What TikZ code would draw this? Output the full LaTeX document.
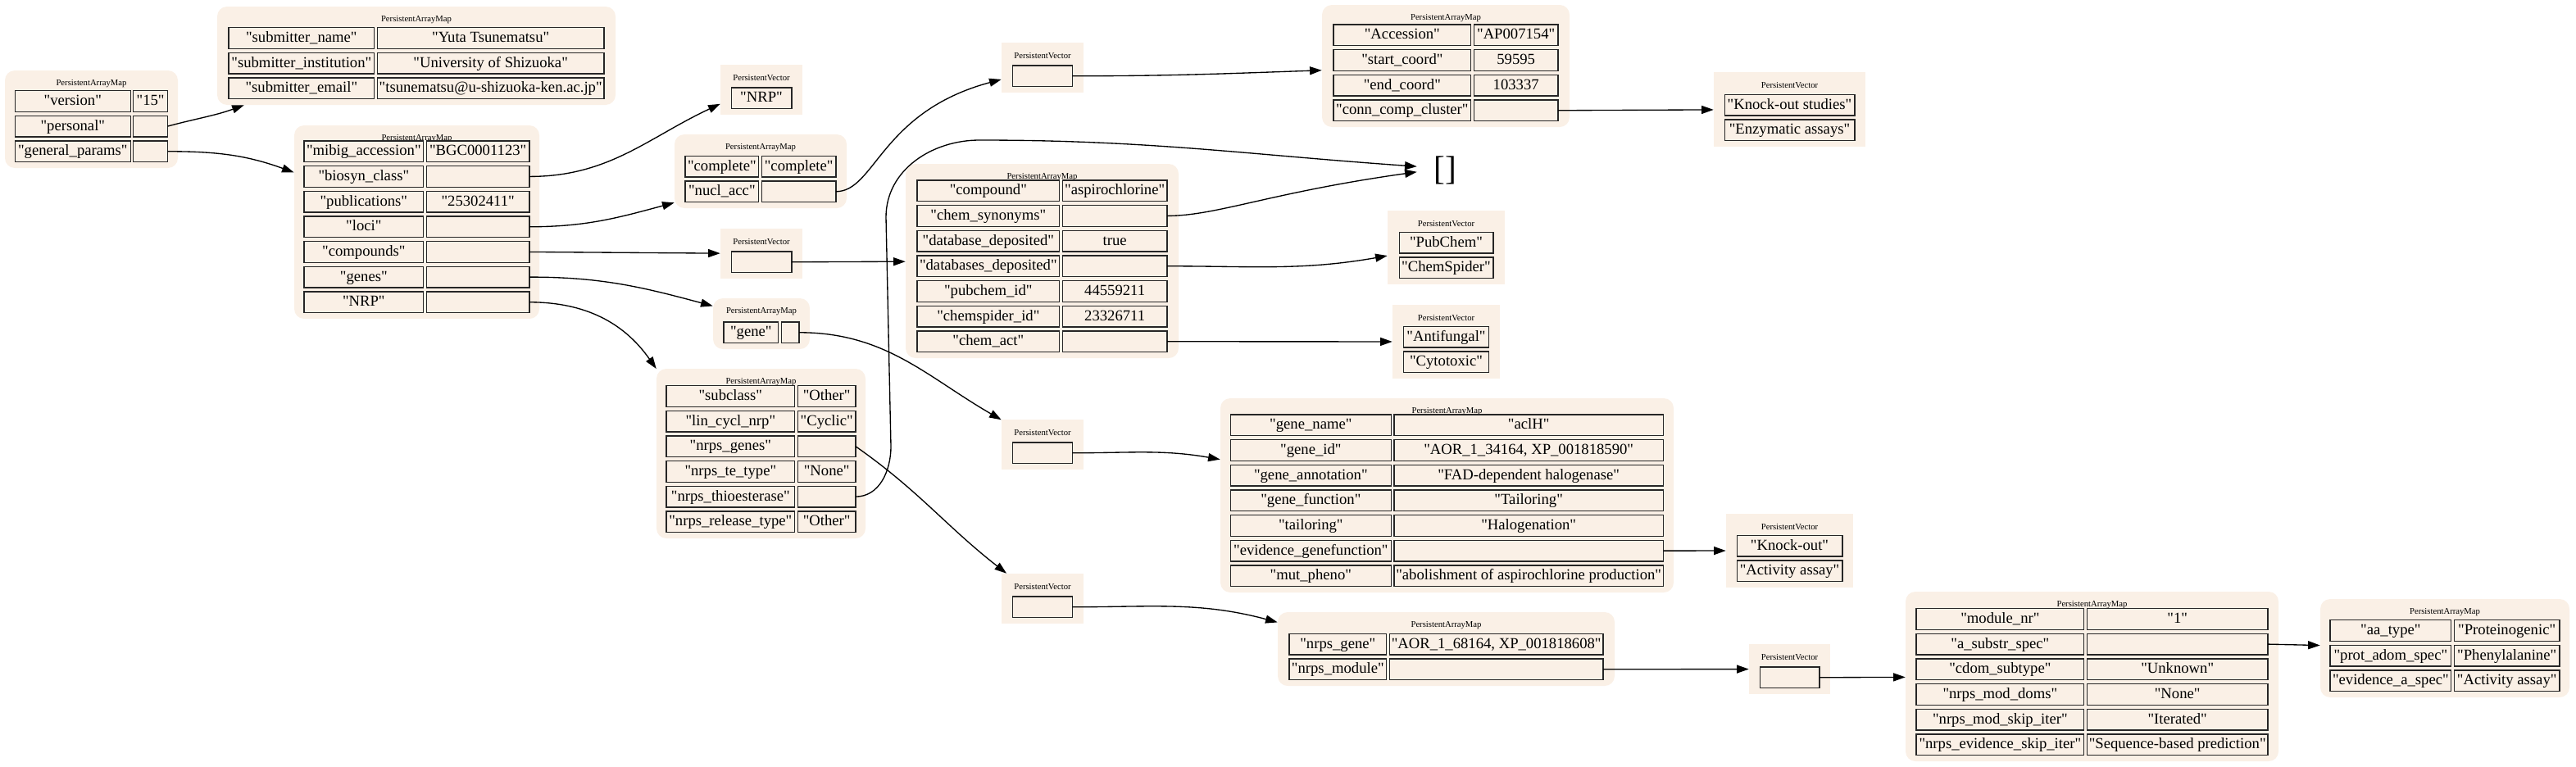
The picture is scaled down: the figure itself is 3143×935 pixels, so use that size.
\documentclass[tikz,border=0pt]{standalone}
\usepackage{fontspec}
\setmainfont{Liberation Serif}
\newfontfamily\gvfont{Liberation Serif}
\usetikzlibrary{matrix, fit, positioning, arrows.meta}

\definecolor{linen}{HTML}{FAF0E6}
\tikzset{
  cell/.style={draw=black!85, line width=1pt, fill=linen, font=\gvfont\fontsize{14}{16}\selectfont,
    inner xsep=1pt, inner ysep=0pt, minimum height=19.25pt, text height=10.5pt, text depth=3pt},
  tbl/.style 2 args={matrix of nodes, nodes in empty cells, inner sep=0pt, outer sep=0pt,
    column sep=1.75pt, row sep=2.75pt, nodes={cell},
    column 1/.style={nodes={minimum width=#1*0.75pt-1pt}},
    column 2/.style={nodes={minimum width=#2*0.75pt-1pt}}},
  vtbl/.style={matrix of nodes, nodes in empty cells, inner sep=0pt, outer sep=0pt,
    row sep=2.75pt, nodes={cell, minimum width=#1*0.75pt-1pt}},
  ttl/.style={font=\gvfont\fontsize{8}{9}\selectfont, anchor=center, yshift=-12pt},
  mapbg/.style={fill=linen, rounded corners=9pt, inner sep=0pt, label={[ttl]north:PersistentArrayMap}},
  vecbg/.style={fill=linen, inner sep=0pt, label={[ttl]north:PersistentVector}}
}

\begin{document}
\begin{tikzpicture}[x=0.75pt, y=-0.75pt, >={Triangle[length=11pt, width=7.5pt]}]
  \useasboundingbox (0,0) rectangle (3143,935);

  \node[mapbg, fit={(6,86) (217,205)}] (root) {};
  \matrix (rootT) [tbl={142}{43}, above=5.25pt of root.south] {
    "version" & "15" \\
    "personal" & \\
    "general\_params" & \\
  };

  \node[mapbg, fit={(265,8) (751,128)}] (personal) {};
  \matrix (personalT) [tbl={179}{278}, above=5.25pt of personal.south] {
    "submitter\_name" & "Yuta Tsunematsu" \\
    "submitter\_institution" & "University of Shizuoka" \\
    "submitter\_email" & "tsunematsu@u-shizuoka-ken.ac.jp" \\
  };

  \node[mapbg, fit={(359,153) (658,389)}] (general) {};
  \matrix (generalT) [tbl={147}{127}, above=5.25pt of general.south] {
    "mibig\_accession" & "BGC0001123" \\
    "biosyn\_class" & \\
    "publications" & "25302411" \\
    "loci" & \\
    "compounds" & \\
    "genes" & \\
    "NRP" & \\
  };

  \node[vecbg, fit={(879,79) (979,140)}] (biosyn) {};
  \matrix (biosynT) [vtbl={75}, above=5.25pt of biosyn.south] {
    "NRP" \\
  };

  \node[mapbg, fit={(823,164) (1033,254)}] (loci) {};
  \matrix (lociT) [tbl={91}{92}, above=5.25pt of loci.south] {
    "complete" & "complete" \\
    "nucl\_acc" & \\
  };

  \node[vecbg, fit={(1222,52) (1322,113)}] (nucl) {};
  \matrix (nuclT) [vtbl={74}, above=5.25pt of nucl.south] {
    {} \\
  };

  \node[mapbg, fit={(1613,6) (1915,155)}] (accession) {};
  \matrix (accessionT) [tbl={169}{104}, above=5.25pt of accession.south] {
    "Accession" & "AP007154" \\
    "start\_coord" & 59595 \\
    "end\_coord" & 103337 \\
    "conn\_comp\_cluster" & \\
  };

  \node[vecbg, fit={(2091,88) (2276,179)}] (conn) {};
  \matrix (connT) [vtbl={160}, above=5.25pt of conn.south] {
    "Knock-out studies" \\
    "Enzymatic assays" \\
  };

  \node[font=\gvfont\fontsize{31}{36}\selectfont, minimum width=51pt, minimum height=36pt, inner sep=0pt] (empty) at (1763,208) {[]};

  \node[vecbg, fit={(879,279) (979,340)}] (compounds) {};
  \matrix (compoundsT) [vtbl={75}, above=5.25pt of compounds.south] {
    {} \\
  };

  \node[mapbg, fit={(1105,200) (1438,437)}] (compound) {};
  \matrix (compoundT) [tbl={175}{129}, above=5.25pt of compound.south] {
    "compound" & "aspirochlorine" \\
    "chem\_synonyms" & \\
    "database\_deposited" & true \\
    "databases\_deposited" & \\
    "pubchem\_id" & 44559211 \\
    "chemspider\_id" & 23326711 \\
    "chem\_act" & \\
  };

  \node[vecbg, fit={(1693,257) (1836,347)}] (databases) {};
  \matrix (databasesT) [vtbl={116}, above=5.25pt of databases.south] {
    "PubChem" \\
    "ChemSpider" \\
  };

  \node[vecbg, fit={(1699,372) (1830,462)}] (chemact) {};
  \matrix (chemactT) [vtbl={105}, above=5.25pt of chemact.south] {
    "Antifungal" \\
    "Cytotoxic" \\
  };

  \node[mapbg, fit={(870,364) (988,426)}] (genes) {};
  \matrix (genesT) [tbl={68}{23}, above=5.25pt of genes.south] {
    "gene" & \\
  };

  \node[mapbg, fit={(801,450) (1056,657)}] (nrp) {};
  \matrix (nrpT) [tbl={158}{72}, above=5.25pt of nrp.south] {
    "subclass" & "Other" \\
    "lin\_cycl\_nrp" & "Cyclic" \\
    "nrps\_genes" & \\
    "nrps\_te\_type" & "None" \\
    "nrps\_thioesterase" & \\
    "nrps\_release\_type" & "Other" \\
  };

  \node[vecbg, fit={(1222,512) (1322,573)}] (gene) {};
  \matrix (geneT) [vtbl={74}, above=5.25pt of gene.south] {
    {} \\
  };

  \node[mapbg, fit={(1489,486) (2042,723)}] (genename) {};
  \matrix (genenameT) [tbl={197}{330}, above=5.25pt of genename.south] {
    "gene\_name" & "aclH" \\
    "gene\_id" & "AOR\_1\_34164, XP\_001818590" \\
    "gene\_annotation" & "FAD-dependent halogenase" \\
    "gene\_function" & "Tailoring" \\
    "tailoring" & "Halogenation" \\
    "evidence\_genefunction" & \\
    "mut\_pheno" & "abolishment of aspirochlorine production" \\
  };

  \node[vecbg, fit={(2106,627) (2261,717)}] (evidence) {};
  \matrix (evidenceT) [vtbl={130}, above=5.25pt of evidence.south] {
    "Knock-out" \\
    "Activity assay" \\
  };

  \node[vecbg, fit={(1222,700) (1322,761)}] (nrpsgenes) {};
  \matrix (nrpsgenesT) [vtbl={74}, above=5.25pt of nrpsgenes.south] {
    {} \\
  };

  \node[mapbg, fit={(1559,747) (1970,837)}] (nrpsgene) {};
  \matrix (nrpsgeneT) [tbl={120}{262}, above=5.25pt of nrpsgene.south] {
    "nrps\_gene" & "AOR\_1\_68164, XP\_001818608" \\
    "nrps\_module" & \\
  };

  \node[vecbg, fit={(2134,786) (2233,847)}] (module) {};
  \matrix (moduleT) [vtbl={74}, above=5.25pt of module.south] {
    {} \\
  };

  \node[mapbg, fit={(2325,722) (2780,929)}] (modulenr) {};
  \matrix (modulenrT) [tbl={206}{222}, above=5.25pt of modulenr.south] {
    "module\_nr" & "1" \\
    "a\_substr\_spec" & \\
    "cdom\_subtype" & "Unknown" \\
    "nrps\_mod\_doms" & "None" \\
    "nrps\_mod\_skip\_iter" & "Iterated" \\
    "nrps\_evidence\_skip\_iter" & "Sequence-based prediction" \\
  };

  \node[mapbg, fit={(2831,731) (3135,851)}] (aspec) {};
  \matrix (aspecT) [tbl={149}{130}, above=5.25pt of aspec.south] {
    "aa\_type" & "Proteinogenic" \\
    "prot\_adom\_spec" & "Phenylalanine" \\
    "evidence\_a\_spec" & "Activity assay" \\
  };

  \coordinate (t1) at (1087,545);
  \coordinate (t2) at (1081,265);
  \coordinate (t3) at (1195,171);

  \path[->, line width=1pt]
    (rootT-2-2.east) edge[out=15, in=200] (personal.196)
    (rootT-3-2.east) edge[out=0, in=160] (general.158)
    (generalT-2-2.east) edge[out=0, in=205] (biosyn.199)
    (generalT-4-2.east) edge[out=0, in=195] (loci.200)
    (generalT-5-2.east) edge (compounds)
    (generalT-6-2.east) edge[out=0, in=165] (genes.160)
    (generalT-7-2.east) edge[out=0, in=125] (nrp.141)
    (lociT-2-2.east) edge[out=0, in=195, out looseness=0.5, in looseness=1.6] (nucl.196)
    (nuclT-1-1.east) edge[out=0, in=182] (accession.182)
    (accessionT-4-2.east) edge (conn)
    (compoundsT-1-1.east) edge (compound)
    (compoundT-2-2.east) edge[out=0, in=188, out looseness=0.5, in looseness=1.5] (empty.183)
    (compoundT-4-2.east) edge[out=0, in=190] (databases.188)
    (compoundT-7-2.east) edge (chemact)
    (genesT-1-2.east) edge[out=0, in=150] (gene.149)
    (geneT-1-1.east) edge[out=0, in=170] (genename.171)
    (nrpT-3-2.east) edge[out=-35, in=142] (nrpsgenes.145)
    (genenameT-6-2.east) edge (evidence)
    (nrpsgenesT-1-1.east) edge[out=0, in=165] (nrpsgene.171)
    (nrpsgeneT-2-2.east) edge (module)
    (moduleT-1-1.east) edge (modulenr)
    (modulenrT-2-2.east) edge (aspec);
  \draw[->, line width=1pt] (nrpT-5-2.east) to[out=0, in=-90] (t1) -- (t2)
    to[out=90, in=180] (t3) to[out=0, in=176] (empty.172);
\end{tikzpicture}
\end{document}
